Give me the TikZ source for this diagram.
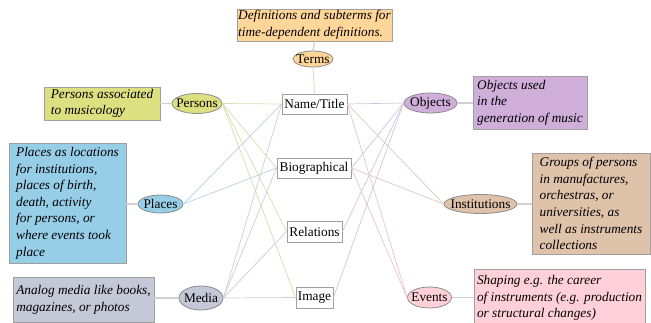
\documentclass[tikz,border=0pt]{standalone}
\usepackage{fontspec}
\setmainfont{Liberation Serif}
\usetikzlibrary{shapes.geometric}
\definecolor{cTerms}{RGB}{255,214,153}
\definecolor{cPers}{RGB}{221,224,128}
\definecolor{cPlac}{RGB}{150,206,232}
\definecolor{cMedi}{RGB}{197,200,214}
\definecolor{cObj}{RGB}{208,174,218}
\definecolor{cInst}{RGB}{222,194,170}
\definecolor{cEvt}{RGB}{255,208,216}
\definecolor{boxgray}{RGB}{160,160,160}
\definecolor{ellgray}{RGB}{140,140,140}
\definecolor{linkgray}{RGB}{208,208,208}
\definecolor{ePers}{RGB}{218,220,172}
\definecolor{ePlac}{RGB}{178,210,226}
\definecolor{eMedi}{RGB}{205,205,210}
\definecolor{eObj}{RGB}{212,194,220}
\definecolor{eInst}{RGB}{220,200,190}
\definecolor{eEvt}{RGB}{228,196,206}
\definecolor{eTerm}{RGB}{226,210,180}
\begin{document}
\begin{tikzpicture}[x=1pt,y=-1pt,
  font=\fontsize{13.3}{16.6}\selectfont,
  desc/.style={draw=boxgray, line width=0.8pt, align=left, inner sep=0pt,
    font=\fontsize{13.3}{16.6}\selectfont\itshape},
  cat/.style={ellipse, draw=ellgray, line width=0.8pt, inner sep=0pt},
  field/.style={draw=boxgray, fill=white, line width=0.8pt, inner sep=0pt},
  link/.style={draw=linkgray, line width=1.2pt},
  edge/.style={line width=0.7pt}]
\useasboundingbox (0,0) rectangle (651,322);

% central field boxes
\node[field, minimum width=65pt, minimum height=20pt] (name) at (314.5,104) {Name/Title};
\node[field, minimum width=74pt, minimum height=20pt] (bio) at (314,168) {Biographical};
\node[field, minimum width=55pt, minimum height=21pt] (rel) at (314.5,231.5) {Relations};
\node[field, minimum width=37pt, minimum height=21pt] (img) at (314.5,297.5) {Image};

% category ellipses
\node[cat, fill=cTerms, minimum width=40pt, minimum height=16pt] (terms) at (313,59) {\makebox[0pt]{Terms}};
\node[cat, fill=cPers, minimum width=50pt, minimum height=20pt] (pers) at (197,103.5) {\makebox[0pt]{Persons}};
\node[cat, fill=cPlac, minimum width=45pt, minimum height=18pt] (plac) at (160.5,204) {\makebox[0pt]{Places}};
\node[cat, fill=cMedi, minimum width=44pt, minimum height=24pt] (medi) at (201,298) {\makebox[0pt]{Media}};
\node[cat, fill=cObj, minimum width=53pt, minimum height=20pt] (obj) at (430.5,103) {\makebox[0pt]{Objects}};
\node[cat, fill=cInst, minimum width=73pt, minimum height=19pt] (inst) at (480.5,204) {\makebox[0pt]{Institutions}};
\node[cat, fill=cEvt, minimum width=44pt, minimum height=21pt] (evt) at (429.5,297.5) {\makebox[0pt]{Events}};

% description boxes
\node[desc, fill=cTerms, minimum width=155pt, minimum height=32pt] (dterms) at (314.5,25) {Definitions and subterms for\\time-dependent definitions.};
\node[desc, fill=cPers, minimum width=116pt, minimum height=33pt] (dpers) at (102,103.5) {Persons associated\\to musicology};
\node[desc, fill=cPlac, minimum width=117pt, minimum height=120pt] (dplac) at (67.5,203) {Places as locations\\for institutions,\\places of birth,\\death, activity\\for persons, or\\where events took\\place};
\node[desc, fill=cMedi, minimum width=141pt, minimum height=45pt] (dmedi) at (83.5,299.5) {Analog media like books,\\magazines, or photos};
\node[desc, fill=cObj, minimum width=114pt, minimum height=53pt] (dobj) at (530,102.5) {Objects used\\in the\\generation of music};
\node[desc, fill=cInst, minimum width=118pt, minimum height=101pt] (dinst) at (591,203.5) {Groups of persons\\in manufactures,\\orchestras, or\\universities, as\\well as instruments\\collections};
\node[desc, fill=cEvt, minimum width=171pt, minimum height=58pt] (devt) at (559.5,298) {Shaping e.g. the career\\of instruments (e.g. production\\or structural changes)};

% description links
\draw[link] (dterms.south) -- (terms.north);
\draw[link] (dpers.east) -- (pers.west);
\draw[link] (dplac.east |- plac.west) -- (plac.west);
\draw[link] (dmedi.east |- medi.west) -- (medi.west);
\draw[link] (obj.east) -- (dobj.west |- obj.east);
\draw[link] (inst.east) -- (dinst.west |- inst.east);
\draw[link] (evt.east) -- (devt.west |- evt.east);

% edges
\draw[edge, eTerm] (terms.south) -- (name.north);
\foreach \t in {name,bio,rel,img} \draw[edge, ePers] (pers.east) -- (\t.west);
\foreach \t in {name,bio} \draw[edge, ePlac] (plac.east) -- (\t.west);
\foreach \t in {name,bio,rel,img} \draw[edge, eMedi] (medi.east) -- (\t.west);
\foreach \t in {name,bio,rel,img} \draw[edge, eObj] (\t.east) -- (obj.west);
\foreach \t in {name,bio} \draw[edge, eInst] (\t.east) -- (inst.west);
\foreach \t in {name,bio} \draw[edge, eEvt] (\t.east) -- (evt.west);
\end{tikzpicture}
\end{document}
